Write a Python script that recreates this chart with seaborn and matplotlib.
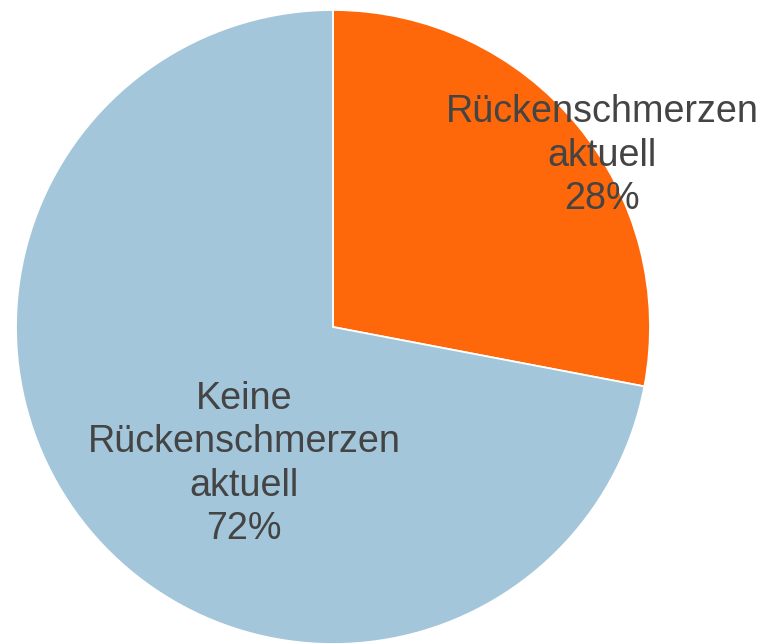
import matplotlib
matplotlib.use("Agg")
import matplotlib.pyplot as plt
import seaborn as sns

# -----------------------------
# Data
# -----------------------------
labels = ["Rückenschmerzen\naktuell", "Keine\nRückenschmerzen\naktuell"]
shares = [28, 72]
colors = ["#FF680A", "#A3C6DB"]

# label placement (axes data coords, pie radius = 1)
label_pos = [(0.849, 0.541), (-0.28, -0.432)]

sns.set_theme(style="white")
plt.rcParams['font.family'] = ['Liberation Sans', 'DejaVu Sans']

fig = plt.figure(figsize=(7.62, 6.44), dpi=100)
ax = fig.add_axes([16 / 762, 0.0, 634 / 762, 634 / 644])

wedges, _ = ax.pie(shares, colors=colors, startangle=90, counterclock=False,
                   radius=1, wedgeprops=dict(edgecolor="white", linewidth=1.3))

for lab, val, (x, y) in zip(labels, shares, label_pos):
    ax.text(x, y, "{}\n{}%".format(lab, val), ha="center", va="center",
            fontsize=27.2, color="#444444", linespacing=1.27)

ax.set_xlim(-1, 1)
ax.set_ylim(-1, 1)
ax.set_aspect("equal")
ax.axis("off")

fig.savefig("out.png", dpi=100)
